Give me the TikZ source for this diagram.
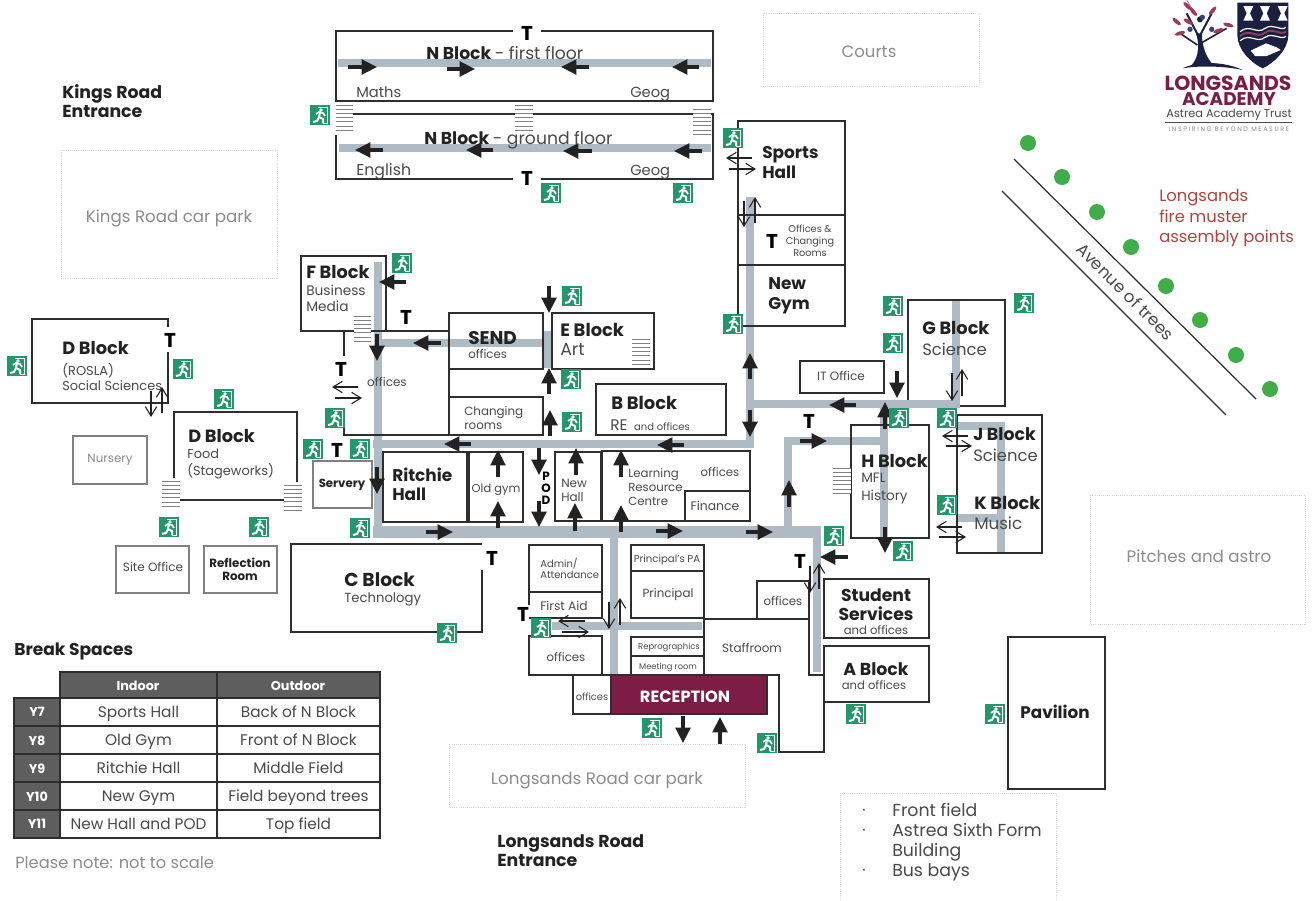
\documentclass[tikz,border=0pt]{standalone}
\usepackage{fontspec}
\setmainfont{Poppins}
\usetikzlibrary{arrows.meta}
\definecolor{ink}{HTML}{2E2E2E}
\definecolor{txt}{HTML}{4A4A4A}
\definecolor{txtb}{HTML}{222222}
\definecolor{pale}{HTML}{8C8C8C}
\definecolor{greywall}{HTML}{808080}
\definecolor{corridor}{HTML}{AEBBC4}
\definecolor{exitg}{HTML}{23966A}
\definecolor{maroon}{HTML}{7D1D45}
\definecolor{navy}{HTML}{1B1F40}
\definecolor{berry}{HTML}{3A3F7A}
\definecolor{leafc}{HTML}{A03A58}
\definecolor{tablehead}{HTML}{5E5E5E}
\definecolor{muster}{HTML}{B5423F}
\definecolor{dots}{HTML}{D6D6D6}
\definecolor{musterdot}{HTML}{3FAE49}
\newcount\nn
\tikzset{
  corr/.style={draw=corridor,line width=6pt,line join=miter},
  wall/.style={draw=ink,line width=1.1pt},
  gwall/.style={draw=greywall,line width=1.1pt},
  zone/.style={draw=dots,densely dotted,line width=.6pt},
  bigarrow/.style={draw=txtb,line width=2.4pt,-{Triangle[length=11.5pt,width=11pt]}},
  thinarrow/.style={draw=txtb,line width=.8pt,-{Straight Barb[length=7pt,width=8.5pt]}},
  bf/.style={font=\fontsize{#1}{#1}\selectfont\bfseries,text=txtb},
  rg/.style={font=\fontsize{#1}{#1}\selectfont,text=txt},
  pl/.style={font=\fontsize{#1}{#1}\selectfont,text=pale},
  stairline/.style={draw=greywall,line width=.55pt},
  gridcell/.style={draw=ink,line width=1.2pt},
}
\newcommand\tw[4]{\global\advance\nn 1 \node[anchor=west,inner sep=0,yshift=-1.5pt,#1] (n\the\nn) at (#2,#3) {\vphantom{Ag}#4};}
\newcommand\tc[4]{\global\advance\nn 1 \node[inner sep=0,yshift=-1.5pt,#1] (n\the\nn) at (#2,#3) {\vphantom{Ag}#4};}
\newcommand\TT[2]{\global\advance\nn 1 \node[inner sep=1pt,font=\fontsize{15}{15}\selectfont\bfseries,text=black] (n\the\nn) at (#1,#2) {T};}
\newcommand\ba[4]{\draw[bigarrow] (#1,#2) -- (#3,#4);}
\newcommand\ta[4]{\draw[thinarrow] (#1,#2) -- (#3,#4);}
\newcommand\stairs[3]{\fill[white] (#1,#3) rectangle (#2,#3+26);
  \foreach \k in {0,1,2,3,4,5,6} {\draw[stairline] (#1,#3+\k*4.2) -- (#2,#3+\k*4.2);}}
\newcommand\exitsign[2]{\begin{scope}[shift={(#1,#2)}]
  \fill[exitg] (-10,-10) rectangle (10,10);
  \draw[white,line width=.5pt] (-2,-8) -- (7,-8) -- (7,8) -- (3,8);
  \fill[white] (1,-5) circle (1.8);
  \draw[white,line width=1.3pt,line join=round] (-4,-1) -- (-1,-3) -- (3,-2) -- (5,1);
  \draw[white,line width=1.5pt,line join=round] (0,-3) -- (-1,2) -- (3,4) -- (3,8);
  \draw[white,line width=1.5pt,line join=round] (-1,2) -- (-3,6) -- (-7,7);
  \end{scope}}
\newcommand\leaf[3]{\fill[leafc,rotate around={#3:(#1,#2)}] (#1,#2) ellipse (16 and 6);}
\begin{document}
\begin{tikzpicture}[x=0.75pt,y=-0.75pt]
\useasboundingbox (0,0) rectangle (1316,900);
\fill[white] (0,0) rectangle (1316,900);

% ---------- outdoor zones
\draw[zone] (763,13) rectangle (979,86);
\tc{pl=12.4}{869}{52}{Courts}
\draw[zone] (61,150) rectangle (277,278);
\tc{pl=12.5}{169}{216}{Kings Road car park}
\draw[zone] (1090,495) rectangle (1305,624);
\tc{pl=12.5}{1199}{556}{Pitches and astro}
\draw[zone] (449,744) rectangle (745,807);
\tc{pl=12.5}{597}{779}{Longsands Road car park}
\draw[zone] (840,900) -- (840,793) -- (1056,793) -- (1056,900);
\tw{rg=11.5}{862}{810}{·}
\tw{rg=11.5}{862}{830}{·}
\tw{rg=11.5}{862}{870}{·}
\tw{rg=13}{892}{810}{Front field}
\tw{rg=13}{892}{830}{Astrea Sixth Form}
\tw{rg=13}{892}{850}{Building}
\tw{rg=13}{892}{870}{Bus bays}
\tw{bf=13}{62}{92}{Kings Road}
\tw{bf=13}{62}{112}{Entrance}
\tw{bf=13}{497}{841}{Longsands Road}
\tw{bf=13}{497}{861}{Entrance}

% ---------- corridors
\draw[corr] (338,63) -- (711,63);
\draw[corr] (339,148) -- (711,148);
\draw[corr] (750,197) -- (750,444) -- (373,444);
\draw[corr] (378,262) -- (378,537);
\draw[corr,line width=8.5pt] (373,532) -- (821,532);
\draw[corr] (817,528) -- (817,672);
\draw[corr] (378,343) -- (547,343);
\draw[corr] (547,331) -- (547,368);
\draw[corr] (788,532) -- (788,441) -- (884,441);
\draw[corr] (750,404) -- (960,404);
\draw[corr] (884,404) -- (884,537);
\draw[corr] (956,301) -- (956,404);
\draw[corr] (957,426) -- (1001,426) -- (1001,552);
\draw[corr] (957,518) -- (1001,518);
\draw[corr] (614,532) -- (614,675);
\draw[corr] (552,626) -- (702,626);

% ---------- N Block
\draw[wall] (513,31) -- (336,31) -- (336,101) -- (713,101) -- (713,31) -- (541,31);
\draw[wall] (353,114) -- (713,114) -- (713,179) -- (541,179);
\draw[wall] (513,179) -- (336,179) -- (336,135);
\stairs{336}{353}{105}
\stairs{515}{533}{105}
\stairs{693}{711}{109}
\TT{527}{33}
\TT{527}{178}
\tw{bf=12.9}{426}{53}{N Block \fontseries{m}\selectfont\color{txt}- first floor}
\tw{bf=12.9}{424}{138}{N Block \fontseries{m}\selectfont\color{txt}- ground floor}
\tw{rg=11}{356}{92}{Maths}
\tw{rg=11}{630}{92}{Geog}
\tw{rg=11.8}{356}{170}{English}
\tw{rg=11}{630}{170}{Geog}

% ---------- Sports Hall / New Gym
\draw[wall] (738,121) rectangle (845,326);
\draw[wall] (738,215) -- (845,215);
\draw[wall] (738,265) -- (845,265);
\tw{bf=12.7}{762}{153}{Sports}
\tw{bf=12.7}{762}{173}{Hall}
\tw{bf=12.7}{768}{284}{New}
\tw{bf=12.7}{768}{304}{Gym}
\tc{rg=7.3}{810}{228}{Offices \&}
\tc{rg=7.3}{810}{240}{Changing}
\tc{rg=7.3}{810}{252}{Rooms}
\TT{772}{241}

% ---------- F Block and offices
\draw[wall] (301,256) rectangle (386,331);
\draw[wall] (386,331) -- (449,331) -- (449,397);
\draw[wall] (344,331) -- (344,356);
\draw[wall] (344,427) -- (344,435) -- (449,435);
\stairs{354}{371}{316}
\tw{bf=13.3}{306}{272}{F Block}
\tw{rg=10.3}{306}{290}{Business}
\tw{rg=10.3}{306}{306}{Media}
\tc{rg=9}{387}{382}{offices}
\TT{406}{317}
\TT{341}{369}

% ---------- SEND, E, B, changing rooms
\draw[wall] (449,313) rectangle (543,369);
\tw{bf=13.8}{468}{338}{SEND}
\tw{rg=8.8}{468}{354}{offices}
\draw[wall] (552,313) rectangle (654,369);
\tw{bf=13.4}{560}{330}{E Block}
\tw{rg=13}{560}{350}{Art}
\stairs{632}{650}{339}
\draw[wall] (449,397) rectangle (543,435);
\tw{rg=8.9}{464}{411}{Changing}
\tw{rg=8.9}{464}{425}{rooms}
\draw[wall] (596,384) rectangle (726,435);
\tw{bf=13.4}{611}{403}{B Block}
\tw{rg=11.5}{610}{425}{RE \fontsize{7.5}{7.5}\selectfont\ and offices}

% ---------- Halls and LRC
\draw[wall] (383,452) rectangle (467,522);
\draw[wall] (469,452) rectangle (523,522);
\tw{bf=12.7}{392}{475}{Ritchie}
\tw{bf=12.7}{392}{495}{Hall}
\tc{rg=8.6}{496}{488}{Old gym}
\draw[wall] (555,452) rectangle (601,521);
\tw{rg=9}{561}{483}{New}
\tw{rg=9}{561}{497}{Hall}
\draw[wall] (602,451) rectangle (750,521);
\draw[wall] (685,491) rectangle (750,521);
\tw{rg=8.8}{628}{473}{Learning}
\tw{rg=8.8}{628}{487}{Resource}
\tw{rg=8.8}{628}{501}{Centre}
\tc{rg=8.8}{720}{472}{offices}
\tc{rg=9.3}{715}{505}{Finance}
\tc{font=\fontsize{9}{9}\selectfont\bfseries,text=black}{546}{476}{P}
\tc{font=\fontsize{9}{9}\selectfont\bfseries,text=black}{546}{488}{O}
\tc{font=\fontsize{9}{9}\selectfont\bfseries,text=black}{546}{500}{D}

% ---------- west side
\draw[wall] (168,327) -- (168,319) -- (32,319) -- (32,403) -- (168,403) -- (168,352);
\TT{170}{340}
\tw{bf=13.3}{62}{348}{D Block}
\tw{rg=9.7}{62}{369}{(ROSLA)}
\tw{rg=9.7}{62}{385}{Social Sciences}
\draw[wall] (174,478) -- (174,412) -- (297,412) -- (297,482);
\draw[wall] (180,500) -- (284,500);
\stairs{162}{180}{481}
\stairs{284}{302}{485}
\tw{bf=13.3}{188}{436}{D Block}
\tw{rg=9.7}{187}{453}{Food}
\tw{rg=9.7}{187}{469}{(Stageworks)}
\draw[gwall] (73,436) rectangle (147,484);
\tc{pl=8.9}{110}{458}{Nursery}
\draw[gwall] (116,546) rectangle (189,593);
\tc{rg=9}{153}{567}{Site Office}
\draw[gwall] (204,546) rectangle (277,593);
\tc{bf=8.9}{240}{562}{Reflection}
\tc{bf=8.9}{240}{576}{Room}
\draw[gwall] (313,461) rectangle (372,508);
\tc{bf=8.8}{342}{483}{Servery}
\TT{337}{450}

% ---------- C Block
\draw[wall] (482,570) -- (482,632) -- (291,632) -- (291,544) -- (482,544);
\TT{492}{558}
\tw{bf=14}{344}{580}{C Block}
\tw{rg=9.9}{344}{597}{Technology}

% ---------- front of school
\draw[wall] (529,545) rectangle (602,592);
\tw{rg=7.5}{540}{562}{Admin/}
\tw{rg=7.5}{540}{574}{Attendance}
\draw[wall] (529,618) -- (602,618) -- (602,592) -- (529,592) -- (529,605);
\tw{rg=9.2}{540}{605}{First Aid}
\draw[wall] (529,636) rectangle (602,675);
\tc{rg=8.8}{566}{657}{offices}
\draw[wall] (573,675) rectangle (611,714);
\tc{rg=7.4}{592}{696}{offices}
\fill[maroon,draw=ink,line width=1.1pt] (611,675) rectangle (767,714);
\tc{font=\fontsize{12.2}{12.2}\selectfont\bfseries,text=white}{685}{697}{RECEPTION}
\draw[wall] (631,545) rectangle (704,571);
\tc{rg=7.6}{667}{558}{Principal's PA}
\draw[wall] (631,571) rectangle (704,618);
\tc{rg=8.9}{668}{593}{Principal}
\draw[wall] (631,637) rectangle (704,656);
\tc{rg=6.3}{669}{645}{Reprographics}
\draw[wall] (631,656) rectangle (704,675);
\tc{rg=6.2}{668}{665}{Meeting room}
\draw[wall] (704,618) -- (704,675);
\draw[wall] (704,619) -- (809,619) -- (809,675) -- (824,675);
\draw[wall] (757,619) -- (757,581) -- (809,581) -- (809,619);
\tc{rg=8.8}{783}{601}{offices}
\tc{rg=9}{752}{648}{Staffroom}
\draw[wall] (767,675) -- (779,675) -- (779,752) -- (824,752) -- (824,702);
\draw[wall] (824,579) rectangle (929,638);
\tc{bf=12.9}{876}{595}{Student}
\tc{bf=12.9}{876}{614}{Services}
\tc{rg=8.7}{876}{630}{and offices}
\draw[wall] (824,646) rectangle (929,702);
\tc{bf=13}{876}{669}{A Block}
\tc{rg=8.7}{874}{685}{and offices}
\TT{800}{561}
\TT{523}{614}

% ---------- east side
\draw[wall] (800,361) rectangle (884,393);
\tc{rg=9}{841}{376}{IT Office}
\draw[wall] (908,400) -- (908,300) -- (1005,300) -- (1005,406) -- (960,406);
\tw{bf=13.3}{922}{328}{G Block}
\tw{rg=12.3}{922}{349}{Science}
\draw[wall] (851,425) rectangle (929,538);
\stairs{833}{851}{468}
\tw{bf=13.3}{861}{461}{H Block}
\tw{rg=10.2}{861}{478}{MFL}
\tw{rg=10.2}{861}{495}{History}
\draw[wall] (957,415) rectangle (1042,553);
\tw{bf=13}{973}{434}{J Block}
\tw{rg=12.3}{973}{455}{Science}
\tw{bf=13.3}{974}{503}{K Block}
\tw{rg=12.5}{974}{523}{Music}
\TT{809}{421}
\draw[wall] (1008,637) rectangle (1105,789);
\tc{bf=12.6}{1055}{712}{Pavilion}

% ---------- thick arrows
\ba{348}{67}{377}{67}
\ba{447}{69}{475}{69}
\ba{589}{67}{561}{67}
\ba{699}{67}{672}{67}
\ba{383}{150}{355}{150}
\ba{493}{150}{466}{150}
\ba{592}{151}{563}{151}
\ba{702}{151}{674}{151}
\ba{406}{282}{379}{282}
\ba{377}{334}{377}{361}
\ba{441}{343}{413}{343}
\ba{549}{286}{549}{313}
\ba{549}{394}{549}{368}
\ba{550}{436}{550}{410}
\ba{750}{379}{750}{353}
\ba{750}{410}{750}{437}
\ba{471}{444}{444}{444}
\ba{684}{445}{657}{445}
\ba{498}{477}{498}{450}
\ba{498}{528}{498}{501}
\ba{539}{448}{539}{475}
\ba{539}{501}{539}{527}
\ba{576}{475}{576}{448}
\ba{575}{531}{575}{503}
\ba{621}{477}{621}{450}
\ba{621}{532}{621}{505}
\ba{377}{467}{377}{494}
\ba{426}{532}{453}{532}
\ba{656}{531}{683}{531}
\ba{746}{532}{773}{532}
\ba{800}{441}{827}{441}
\ba{789}{507}{789}{480}
\ba{856}{405}{829}{405}
\ba{897}{371}{897}{398}
\ba{885}{429}{885}{402}
\ba{885}{527}{885}{553}
\ba{848}{557}{820}{557}
\ba{683}{716}{683}{743}
\ba{720}{744}{720}{717}

% ---------- thin two-way arrows
\ta{358}{387}{332}{387}
\ta{335}{398}{362}{398}
\ta{968}{436}{942}{436}
\ta{946}{446}{972}{446}
\ta{962}{527}{936}{527}
\ta{939}{537}{966}{537}
\ta{952}{373}{952}{401}
\ta{962}{396}{962}{369}
\ta{620}{625}{620}{598}
\ta{609}{602}{609}{629}
\ta{585}{621}{558}{621}
\ta{562}{632}{589}{632}
\ta{810}{566}{810}{593}
\ta{819}{589}{819}{563}
\ta{151}{391}{151}{417}
\ta{162}{413}{162}{387}
\ta{752}{158}{726}{158}
\ta{729}{169}{756}{169}
\ta{744}{201}{744}{227}
\ta{755}{223}{755}{197}

% ---------- exit signs
\foreach \ex/\ey in {320/115,551/193,683/193,733/138,733/324,17/366,183/369,224/399,169/527,259/527,
  402/263,572/296,571/379,572/422,335/418,313/449,360/449,360/528,893/306,893/343,1024/303,899/418,947/418,
  947/505,834/536,903/551,541/628,652/728,767/743,856/714,447/633,995/714}
  {\exitsign{\ex}{\ey}}

% ---------- avenue and muster points
\draw[draw=ink,line width=.9pt] (1014,159) -- (1256,399);
\draw[draw=ink,line width=.9pt] (1002,191) -- (1226,415);
\tc{rg=12.5,rotate=-45}{1124}{291}{Avenue of trees}
\foreach \mx/\my in {1028/143,1062/177,1097/212,1131/247,1166/286,1200/320,1236/355,1270/389}
  {\fill[musterdot] (\mx,\my) circle (8);}
\tw{rg=12.3,text=muster}{1159}{196}{Longsands}
\tw{rg=12.3,text=muster}{1159}{216}{fire muster}
\tw{rg=12.3,text=muster}{1159}{236}{assembly points}

% ---------- logo
\begin{scope}[shift={(1160,0)},x=.25pt,y=-.25pt]
  \fill[navy] (68,205) .. controls (110,183) and (190,183) .. (248,210) .. controls (190,197) and (110,197) .. cycle;
  \fill[navy] (95,195) .. controls (118,170) and (118,130) .. (108,100) -- (126,100) .. controls (125,130) and (135,170) .. (160,195) -- cycle;
  \draw[navy,line width=1.5pt] (116,110) -- (80,40);
  \draw[navy,line width=1.5pt] (118,110) -- (155,40);
  \draw[navy,line width=1.2pt] (112,135) -- (60,100);
  \draw[navy,line width=1.2pt] (122,130) -- (200,85);
  \fill[navy] (120,58) circle (9);
  \draw[maroon,line width=.3pt] (80,0) -- (105,40);
  \leaf{50}{65}{-40}\leaf{60}{100}{15}\leaf{100}{35}{-50}\leaf{82}{18}{-45}
  \leaf{158}{32}{50}\leaf{205}{75}{-15}\leaf{175}{92}{20}\leaf{85}{65}{-30}
  \fill[berry] (127,52) circle (8);
  \fill[berry] (90,88) circle (8);
  \fill[berry] (155,88) circle (8);
  \fill[navy] (232,8) -- (385,8) -- (385,105) .. controls (385,150) and (340,190) .. (308,205) .. controls (275,190) and (232,150) .. (232,105) -- cycle;
  \foreach \c in {265,315,368}
    {\fill[white] (\c-15,18) -- (\c+15,18) -- (\c+5,40) -- (\c+15,62) -- (\c-15,62) -- (\c-5,40) -- cycle;}
  \draw[white,line width=.9pt] (240,95) .. controls (270,70) and (290,105) .. (315,85) .. controls (340,68) and (360,95) .. (378,82);
  \draw[maroon!85!white,line width=1.4pt] (240,108) .. controls (270,83) and (290,118) .. (315,98) .. controls (340,81) and (360,108) .. (378,95);
  \draw[white,line width=.9pt] (240,122) .. controls (270,97) and (290,132) .. (315,112) .. controls (340,95) and (360,122) .. (378,109);
  \fill[white] (272,152) -- (318,130) -- (350,142) -- (362,150) -- (320,168) -- (285,168) -- cycle;
\end{scope}
\tc{font=\fontsize{15.3}{15.3}\selectfont\bfseries,text=maroon}{1228}{84}{LONGSANDS}
\tc{font=\fontsize{13.8}{13.8}\selectfont\bfseries,text=maroon}{1229}{99}{ACADEMY}
\tc{rg=8.5}{1229}{113}{Astrea Academy Trust}
\draw[draw=txt,line width=.5pt] (1165,122) -- (1292,122);
\tc{font=\fontsize{4.8}{4.8}\selectfont\addfontfeature{LetterSpace=25},text=pale}{1229}{128}{INSPIRING BEYOND MEASURE}

% ---------- break spaces table
\tw{bf=12.8}{14}{650}{Break Spaces}
\fill[tablehead] (60,672) rectangle (380,698);
\fill[tablehead] (14,698) rectangle (60,838);
\draw[gridcell] (60,672) rectangle (217,698);
\draw[gridcell] (217,672) rectangle (380,698);
\tc{font=\fontsize{9.6}{9.6}\selectfont\bfseries,text=white}{138}{686}{Indoor}
\tc{font=\fontsize{9.6}{9.6}\selectfont\bfseries,text=white}{298}{686}{Outdoor}
\foreach \ty/\tyr/\tin/\tout in {698/Y7/Sports Hall/Back of N Block,726/Y8/Old Gym/Front of N Block,754/Y9/Ritchie Hall/Middle Field,782/Y10/New Gym/Field beyond trees,810/Y11/New Hall and POD/Top field}{
  \draw[gridcell] (14,\ty) rectangle (60,\ty+28);
  \draw[gridcell] (60,\ty) rectangle (217,\ty+28);
  \draw[gridcell] (217,\ty) rectangle (380,\ty+28);
  \tc{font=\fontsize{9.6}{9.6}\selectfont\bfseries,text=white}{37}{\ty+14}{\tyr}
  \tc{rg=11.5}{138.5}{\ty+14}{\tin}
  \tc{rg=11.5}{298.5}{\ty+14}{\tout}
}
\tw{pl=12.2}{15}{863}{Please note: not to scale}
\end{tikzpicture}
\end{document}
